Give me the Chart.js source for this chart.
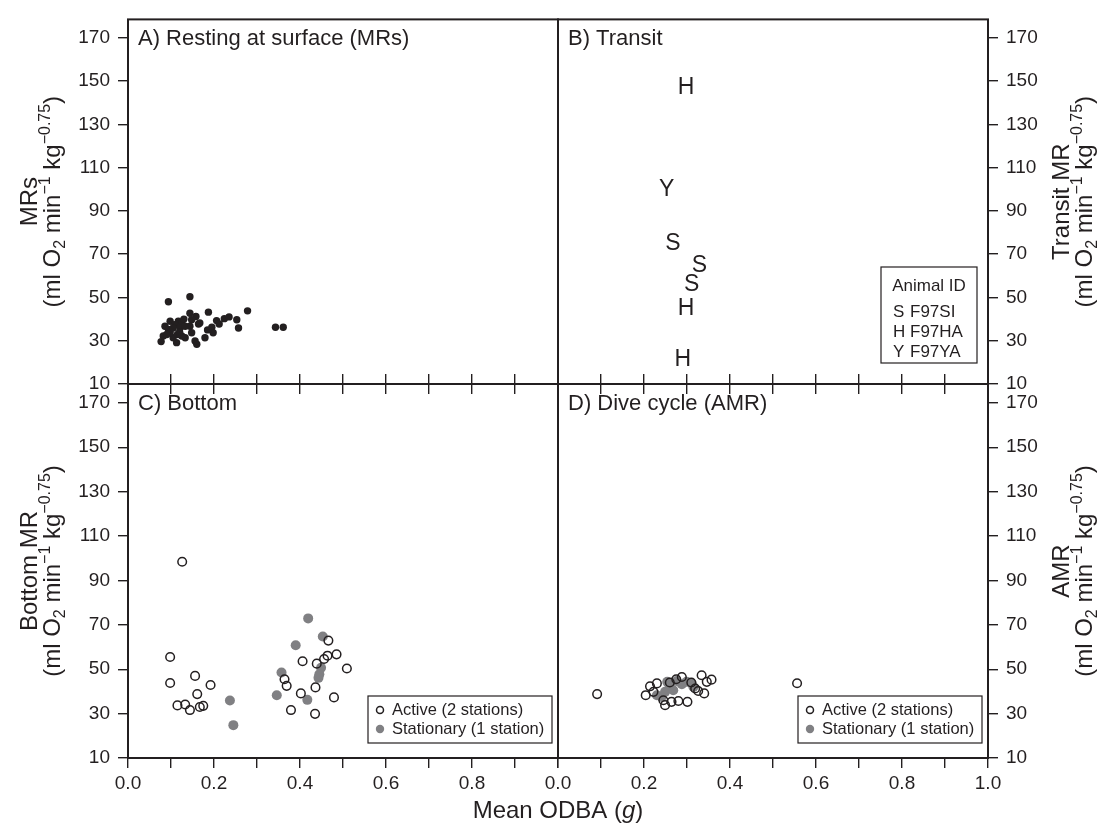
<!DOCTYPE html>
<html>
<head>
<meta charset="utf-8">
<title>ODBA vs metabolic rate</title>
<script src="https://cdn.jsdelivr.net/npm/chart.js@4.4.0/dist/chart.umd.min.js"></script>
<style>
  html, body { margin: 0; padding: 0; background: #fff; }
  #wrap { position: relative; width: 1106px; height: 830px; }
  #wrap canvas { position: absolute; left: 0; top: 0; }
</style>
</head>
<body>
<div id="wrap">
  <canvas id="chartA" width="1106" height="830"></canvas>
  <canvas id="chartB" width="1106" height="830"></canvas>
  <canvas id="chartC" width="1106" height="830"></canvas>
  <canvas id="chartD" width="1106" height="830"></canvas>
</div>
<script>
// ---- data ----
const xTicks = [0, 0.1, 0.2, 0.3, 0.4, 0.5, 0.6, 0.7, 0.8, 0.9, 1.0];
const yTicks = [10, 30, 50, 70, 90, 110, 130, 150, 170];

// A) resting at surface
const restX = [0.094, 0.144, 0.187, 0.278, 0.343, 0.361, 0.253, 0.257, 0.224, 0.206, 0.212, 0.195, 0.198, 0.179,
  0.160, 0.156, 0.144, 0.158, 0.148, 0.164, 0.144, 0.148, 0.133, 0.125, 0.113, 0.105, 0.077, 0.082, 0.086,
  0.098, 0.117, 0.125, 0.109, 0.094, 0.098, 0.090, 0.105, 0.121, 0.133, 0.115, 0.167, 0.130, 0.120, 0.185, 0.235];
const restY = [48.0, 50.3, 43.2, 43.8, 36.2, 36.2, 39.7, 35.9, 40.2, 39.3, 37.7, 36.2, 33.7, 31.4,
  28.4, 29.9, 42.7, 41.2, 39.7, 37.7, 36.7, 33.7, 31.4, 32.2, 29.1, 31.4, 29.6, 32.2, 36.7,
  39.0, 39.0, 38.2, 37.4, 35.2, 33.7, 32.9, 35.9, 35.9, 36.7, 32.9, 38.2, 40.0, 34.0, 35.0, 41.0];

// B) transit, one letter per animal
const transitCode = ['H', 'Y', 'S', 'S', 'S', 'H', 'H'];
const transitX = [0.298, 0.253, 0.267, 0.329, 0.311, 0.298, 0.290];
const transitY = [147.4, 100.2, 75.3, 65.0, 56.6, 45.2, 21.7];
const animalCodes = ['S', 'H', 'Y'];
const animalIds = ['F97SI', 'F97HA', 'F97YA'];

// C) bottom
const bottomActiveX = [0.126, 0.098, 0.098, 0.156, 0.192, 0.161, 0.115, 0.133, 0.144, 0.167, 0.175, 0.466, 0.406,
  0.439, 0.456, 0.464, 0.485, 0.509, 0.364, 0.369, 0.402, 0.436, 0.479, 0.379, 0.435];
const bottomActiveY = [98.4, 55.5, 43.8, 47.0, 42.9, 38.8, 33.7, 34.1, 31.6, 33.0, 33.5, 62.9, 53.6,
  52.5, 54.6, 56.1, 56.7, 50.3, 45.5, 42.5, 39.1, 41.8, 37.3, 31.6, 29.9];
const bottomStatX = [0.419, 0.453, 0.390, 0.357, 0.346, 0.417, 0.237, 0.245, 0.449, 0.445, 0.443];
const bottomStatY = [72.9, 64.7, 60.8, 48.5, 38.3, 36.2, 35.9, 24.8, 50.7, 47.7, 46.1];

// D) dive cycle
const diveActiveX = [0.091, 0.204, 0.214, 0.230, 0.249, 0.264, 0.280, 0.301, 0.334, 0.346, 0.357, 0.340, 0.326,
  0.288, 0.222, 0.319, 0.556, 0.260, 0.275, 0.310, 0.245];
const diveActiveY = [38.8, 38.3, 42.3, 43.6, 33.8, 35.3, 35.7, 35.3, 47.3, 44.3, 45.3, 39.1, 40.2,
  46.5, 39.8, 41.3, 43.7, 44.0, 45.5, 44.0, 36.0];
const diveStatX = [0.230, 0.249, 0.260, 0.254, 0.276, 0.288, 0.299, 0.311, 0.315, 0.268, 0.241];
const diveStatY = [38.3, 39.8, 42.3, 44.3, 44.7, 43.2, 44.3, 43.6, 42.0, 40.5, 37.5];

const seriesLabels = ['Active (2 stations)', 'Stationary (1 station)'];

// ---- look ----
const FONT = '"Liberation Sans", Arial, Helvetica, sans-serif';
const INK = '#231f20';
const GREY = '#808083';
const TICK = 10;
const W = 1106, H = 830;
const L = 128, MID_X = 558, R = 988, T = 14, MID_Y = 384, B = 758;
const Y_MAX = 178.5;

const units = [
  { t: '(ml O' }, { t: '2', sub: true }, { t: ' min' }, { t: '\u22121', sup: true },
  { t: ' kg' }, { t: '\u22120.75', sup: true }, { t: ')' }
];

const pts = (xs, ys) => xs.map((x, i) => ({ x: x, y: ys[i] }));

function drawRich(ctx, parts, x, y, size, rotate) {
  ctx.save();
  ctx.translate(x, y);
  if (rotate) ctx.rotate(-Math.PI / 2);
  const fontOf = p => (p.italic ? 'italic ' : '') + Math.round(p.sub || p.sup ? size * 0.66 : size) + 'px ' + FONT;
  let w = 0;
  parts.forEach(p => { ctx.font = fontOf(p); w += ctx.measureText(p.t).width; });
  let cx = -w / 2;
  ctx.fillStyle = INK;
  ctx.textAlign = 'left';
  ctx.textBaseline = 'alphabetic';
  parts.forEach(p => {
    ctx.font = fontOf(p);
    let dy = size * 0.36;
    if (p.sub) dy += size * 0.22;
    if (p.sup) dy -= size * 0.42;
    ctx.fillText(p.t, cx, dy);
    cx += ctx.measureText(p.t).width;
  });
  ctx.restore();
}

const decor = {
  id: 'decor',
  afterDatasetsDraw(chart, args, o) {
    const ctx = chart.ctx;
    const a = chart.chartArea;
    ctx.save();
    // letters used as markers in panel B
    if (o.letters) {
      const meta = chart.getDatasetMeta(0);
      ctx.font = '23px ' + FONT;
      ctx.fillStyle = INK;
      ctx.textAlign = 'center';
      ctx.textBaseline = 'middle';
      meta.data.forEach((el, i) => ctx.fillText(o.letters[i], el.x, el.y + 1));
    }
    // panel box
    ctx.strokeStyle = INK;
    ctx.lineWidth = 2;
    ctx.strokeRect(a.left, a.top, a.right - a.left, a.bottom - a.top);
    // panel title
    ctx.font = '22px ' + FONT;
    ctx.fillStyle = INK;
    ctx.textAlign = 'left';
    ctx.textBaseline = 'alphabetic';
    ctx.fillText(o.title, a.left + 10, a.top + 26);
    // y axis title, two lines
    const mid = (a.top + a.bottom) / 2;
    const x1 = o.side === 'left' ? 28 : 1060;
    drawRich(ctx, [{ t: o.yTitle }], x1, mid, 24, true);
    drawRich(ctx, units, x1 + 23, mid, 24, true);
    // legend for Animal IDs
    if (o.idLegend) {
      const bx = a.right - 107, by = a.bottom - 117;
      ctx.lineWidth = 1.2;
      ctx.strokeRect(bx, by, 96, 96);
      ctx.font = '17px ' + FONT;
      ctx.textBaseline = 'middle';
      ctx.textAlign = 'center';
      ctx.fillText('Animal ID', bx + 48, by + 19);
      ctx.textAlign = 'left';
      animalCodes.forEach((c, i) => {
        ctx.fillText(c, bx + 12, by + 45 + i * 20);
        ctx.fillText(animalIds[i], bx + 29, by + 45 + i * 20);
      });
    }
    // legend for station groups
    if (o.stationLegend) {
      const bx = a.right - 190, by = a.bottom - 62;
      ctx.lineWidth = 1.2;
      ctx.strokeRect(bx, by, 184, 47);
      ctx.font = '16.5px ' + FONT;
      ctx.textBaseline = 'middle';
      ctx.textAlign = 'left';
      ctx.beginPath();
      ctx.arc(bx + 12, by + 14, 3.5, 0, Math.PI * 2);
      ctx.lineWidth = 1.5;
      ctx.stroke();
      ctx.beginPath();
      ctx.arc(bx + 12, by + 33, 4.2, 0, Math.PI * 2);
      ctx.fillStyle = GREY;
      ctx.fill();
      ctx.fillStyle = INK;
      ctx.fillText(seriesLabels[0], bx + 24, by + 14);
      ctx.fillText(seriesLabels[1], bx + 24, by + 33);
    }
    // x axis title
    if (o.xTitle) {
      drawRich(ctx, [{ t: 'Mean ODBA (' }, { t: 'g', italic: true }, { t: ')' }], MID_X, 809, 24, false);
    }
    ctx.restore();
  }
};

const gridStyle = { drawOnChartArea: false, drawTicks: true, tickLength: TICK, color: INK, lineWidth: 1.4 };
const tickFont = { family: FONT, size: 19 };

function makePanel(id, p) {
  const left = p.side === 'left';
  const scales = {
    x: {
      type: 'linear', position: 'bottom', min: 0, max: 1,
      border: { display: false },
      grid: gridStyle,
      afterBuildTicks: s => { s.ticks = xTicks.map(v => ({ value: v })); },
      afterFit: s => { s.height = p.xLabels ? 40 : TICK; },
      ticks: {
        display: !!p.xLabels, autoSkip: false, maxRotation: 0, padding: 4,
        color: INK, font: tickFont,
        callback: (v, i) => (i % 2 === 0 && !(p.hideLast && i === xTicks.length - 1)) ? v.toFixed(1) : ''
      }
    },
    y: {
      type: 'linear', position: p.side, min: 10, max: Y_MAX,
      border: { display: false },
      grid: gridStyle,
      afterBuildTicks: s => { s.ticks = yTicks.map(v => ({ value: v })); },
      afterFit: s => { s.width = left ? L : W - R; },
      ticks: { autoSkip: false, padding: 8, color: INK, font: tickFont }
    }
  };
  if (p.topTicks) {
    scales.xt = {
      type: 'linear', position: 'top', min: 0, max: 1,
      border: { display: false },
      grid: gridStyle,
      afterBuildTicks: s => { s.ticks = xTicks.map(v => ({ value: v })); },
      afterFit: s => { s.height = TICK; },
      ticks: { display: false }
    };
  }
  const pad = {
    left: left ? 0 : MID_X,
    right: left ? W - MID_X : 0,
    top: p.top ? T : MID_Y - TICK,
    bottom: p.top ? H - MID_Y - TICK : H - B - 40
  };
  return new Chart(document.getElementById(id), {
    type: 'scatter',
    data: { datasets: p.datasets },
    options: {
      responsive: false,
      animation: false,
      devicePixelRatio: 1,
      layout: { padding: pad },
      scales: scales,
      plugins: {
        legend: { display: false },
        tooltip: { enabled: false },
        decor: p.decor
      }
    },
    plugins: [decor]
  });
}

const openStyle = { pointRadius: 4.3, pointBorderWidth: 1.5, borderColor: INK, backgroundColor: 'rgba(0,0,0,0)', pointBackgroundColor: 'rgba(0,0,0,0)', pointBorderColor: INK };
const greyStyle = { pointRadius: 5, pointBorderWidth: 0, pointBackgroundColor: GREY, pointBorderColor: GREY, backgroundColor: GREY };

makePanel('chartA', {
  side: 'left', top: true,
  datasets: [{ label: 'MRs', data: pts(restX, restY), pointRadius: 3.7, pointBorderWidth: 0, pointBackgroundColor: INK }],
  decor: { title: 'A) Resting at surface (MRs)', yTitle: 'MRs', side: 'left' }
});

makePanel('chartB', {
  side: 'right', top: true,
  datasets: [{ label: 'Transit MR', data: pts(transitX, transitY), pointRadius: 0 }],
  decor: { title: 'B) Transit', yTitle: 'Transit MR', side: 'right', letters: transitCode, idLegend: true }
});

makePanel('chartC', {
  side: 'left', top: false, xLabels: true, hideLast: true, topTicks: true,
  datasets: [
    Object.assign({ label: seriesLabels[0], data: pts(bottomActiveX, bottomActiveY) }, openStyle),
    Object.assign({ label: seriesLabels[1], data: pts(bottomStatX, bottomStatY) }, greyStyle)
  ],
  decor: { title: 'C) Bottom', yTitle: 'Bottom MR', side: 'left', stationLegend: true }
});

makePanel('chartD', {
  side: 'right', top: false, xLabels: true, topTicks: true,
  datasets: [
    Object.assign({ label: seriesLabels[0], data: pts(diveActiveX, diveActiveY) }, openStyle),
    Object.assign({ label: seriesLabels[1], data: pts(diveStatX, diveStatY) }, greyStyle)
  ],
  decor: { title: 'D) Dive cycle (AMR)', yTitle: 'AMR', side: 'right', stationLegend: true, xTitle: true }
});
</script>
</body>
</html>
